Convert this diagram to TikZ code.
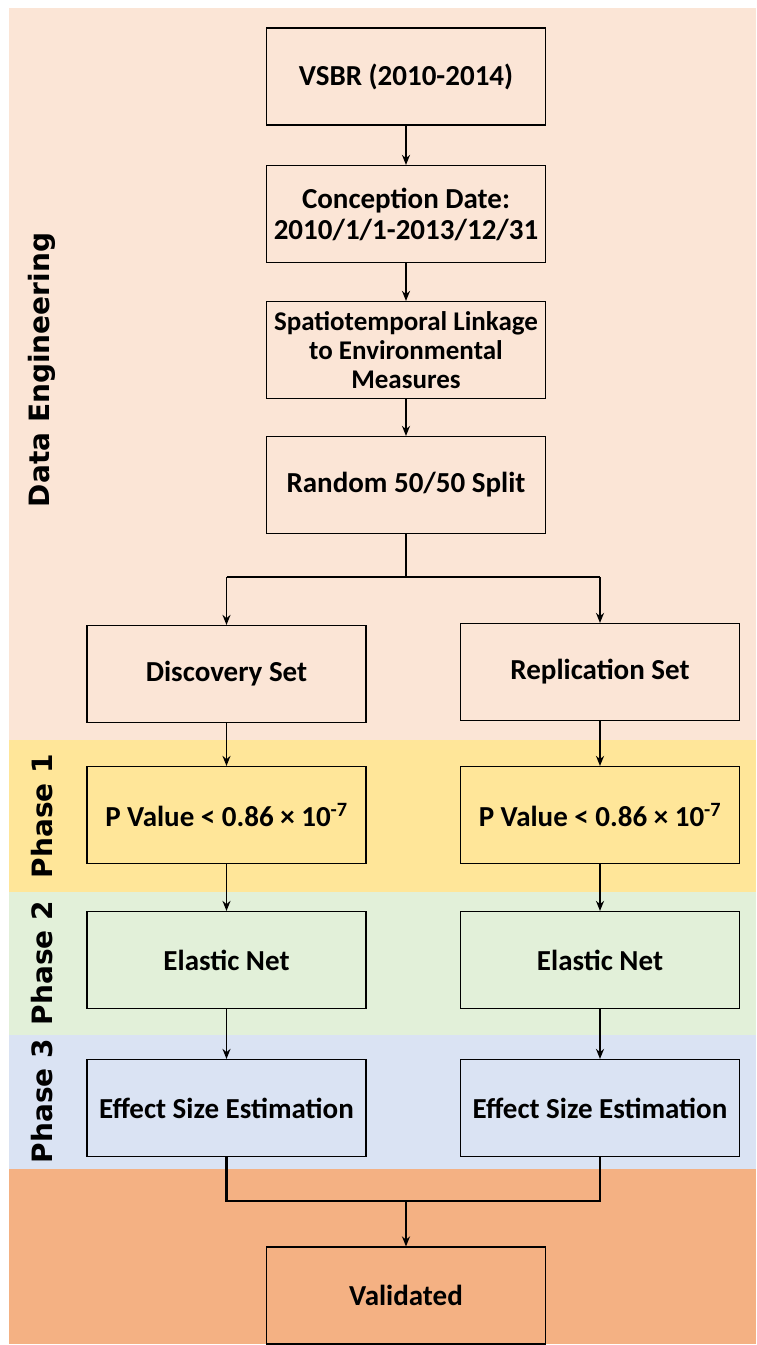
\documentclass[tikz,border=0pt]{standalone}
\usepackage{fontspec}
\setmainfont{Carlito}
\newfontfamily\phasefont{DejaVu Sans}
\usetikzlibrary{positioning,calc,arrows.meta}

\definecolor{engfill}{HTML}{FBE5D6}
\definecolor{onefill}{HTML}{FFE699}
\definecolor{twofill}{HTML}{E2F0D9}
\definecolor{threefill}{HTML}{DAE3F3}
\definecolor{donefill}{HTML}{F4B183}

\tikzset{
	stepbox/.style={draw,line width=1.2pt,minimum width=279pt,minimum height=97pt,
		inner sep=2pt,align=center,font=\bfseries\fontsize{29}{31}\selectfont},
	phaselabel/.style={rotate=90,font=\phasefont\bfseries\fontsize{28}{32}\selectfont},
	branch/.style={line width=2.6pt},
	flow/.style={->,line width=1.8pt},
}

\begin{document}
\begin{tikzpicture}[>={Stealth[length=10pt,width=8pt]},x=1pt,y=-1pt]

			\useasboundingbox (0,0) rectangle (756,1345);

			% coloured bands
			\fill[engfill] (9,8) rectangle (756,740);
			\fill[onefill] (9,740) rectangle (756,892);
			\fill[twofill] (9,892) rectangle (756,1035);
			\fill[threefill] (9,1035) rectangle (756,1169);
			\fill[donefill] (9,1169) rectangle (756,1344);

			\node[phaselabel] (lbleng) at (42,370) {Data Engineering};
			\node[phaselabel] (lblone) at (42,816) {Phase 1};
			\node[phaselabel] (lbltwo) at (42,963) {Phase 2};
			\node[phaselabel] (lblthree) at (42,1101) {Phase 3};

			% data engineering
			\node[stepbox] (vsbr) at (406,76.5) {VSBR (2010-2014)};
			\node[stepbox] (concep) at (406,214) {Conception Date:\\2010/1/1-2013/12/31};
			\node[stepbox,font=\bfseries\fontsize{27}{29}\selectfont] (link) at (406,350)
				{Spatiotemporal Linkage\\to Environmental\\Measures};
			\node[stepbox] (split) at (406,485) {Random 50/50 Split};

			\draw[flow] (vsbr) -- (concep);
			\draw[flow] (concep) -- (link);
			\draw[flow] (link) -- (split);

			% the two arms
			\node[stepbox] (disc) at (226.5,674) {Discovery Set};
			\node[stepbox] (repl) at (600,672) {Replication Set};
			\foreach \side/\x in {left/226.5,right/600} {
					\node[stepbox] (pval\side) at (\x,815) {P Value < 0.86 × 10\textsuperscript{-7}};
					\node[stepbox] (enet\side) at (\x,960) {Elastic Net};
					\node[stepbox] (esize\side) at (\x,1108) {Effect Size Estimation};
					\draw[flow] (pval\side) -- (enet\side);
					\draw[flow] (enet\side) -- (esize\side);
				}
			\draw[flow] (disc) -- (pvalleft);
			\draw[flow] (repl) -- (pvalright);

			\node[stepbox] (valid) at (406,1295.5) {Validated};

			% fork and join
			\coordinate (fork) at (406,577);
			\coordinate (join) at (406,1201);
			\draw[branch] (split) -- (fork);
			\draw[branch] (disc.north |- fork) -- (repl.north |- fork);
			\draw[flow] (disc.north |- fork) -- (disc.north);
			\draw[flow] (repl.north |- fork) -- (repl.north);

			\draw[branch] (esizeleft.south) -- (esizeleft.south |- join) -- (esizeright.south |- join) -- (esizeright.south);
			\draw[flow] (join) -- (valid);
		\end{tikzpicture}
\end{document}
